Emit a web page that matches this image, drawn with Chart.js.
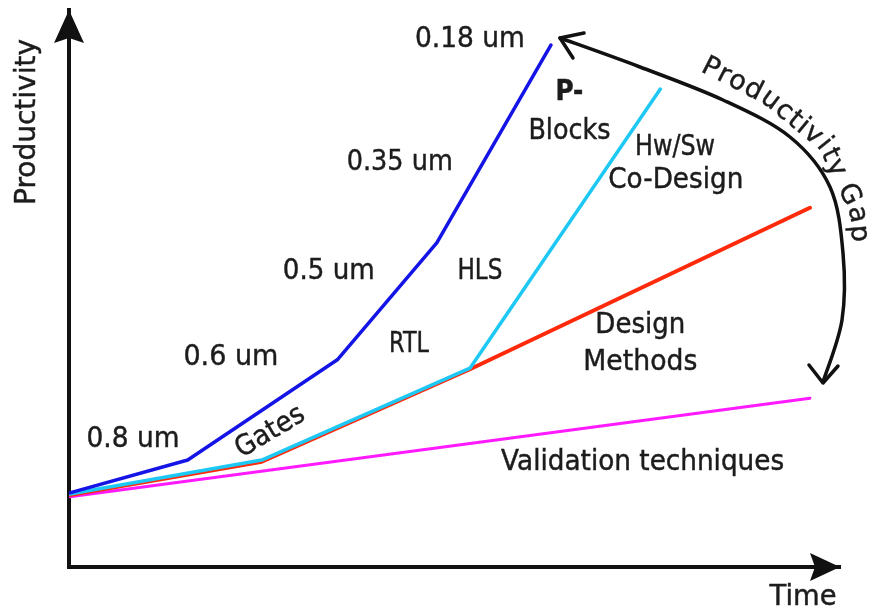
<!DOCTYPE html>
<html lang="en">
<head>
  <meta charset="UTF-8">
  <title>Productivity Gap</title>
  <script src="https://cdn.jsdelivr.net/npm/chart.js"></script>
  <style>
    html, body { margin: 0; padding: 0; background: #fff; }
    #wrap { width: 873px; height: 613px; }
  </style>
</head>
<body>
  <div id="wrap"><canvas id="gapChart" width="873" height="613"></canvas></div>

  <script>
    // Time and productivity both in arbitrary units 0..100
    const processTime = [0.1, 15.4, 34.8, 47.7, 62.5];
    const processProd = [13.3, 19.2, 37.2, 58.2, 93.7];
    const hwswTime = [0.1, 25.0, 52.0, 76.7];
    const hwswProd = [13.1, 19.2, 35.7, 85.8];
    const methodsTime = [0.1, 25.0, 52.0, 96.1];
    const methodsProd = [12.9, 18.9, 35.5, 64.5];
    const validationTime = [0.1, 96.1];
    const validationProd = [12.6, 30.3];

    const seriesNames = ['Process technology', 'Hw/Sw Co-Design', 'Design Methods', 'Validation techniques'];
    const nodeLabels = ['0.8 um', '0.6 um', '0.5 um', '0.35 um', '0.18 um'];
    const phaseLabels = ['Gates', 'RTL', 'HLS', 'P-', 'Blocks'];
    const axisTitles = ['Time', 'Productivity'];
    const gapLabel = 'Productivity Gap';

    const FONT = '"DejaVu Sans", "Liberation Sans", sans-serif';
    const INK = '#1c1c1c';
    const SIZE = 28;

    // where the text notes sit (data units) and how wide they may get
    const notes = [
      { text: nodeLabels[4], x: 52.0, y: 94.6, w: 110 },
      { text: nodeLabels[3], x: 42.9, y: 72.5, w: 106 },
      { text: nodeLabels[2], x: 33.7, y: 53.0, w: 92 },
      { text: nodeLabels[1], x: 21.0, y: 37.5, w: 95 },
      { text: nodeLabels[0], x: 8.3, y: 22.8, w: 93 },
      { text: phaseLabels[0], x: 26.1, y: 24.2, w: 76, rot: -31 },
      { text: phaseLabels[1], x: 44.1, y: 39.9, w: 40 },
      { text: phaseLabels[2], x: 53.3, y: 53.0, w: 45 },
      { text: phaseLabels[3], x: 64.9, y: 85.1, w: 28, bold: true },
      { text: phaseLabels[4], x: 64.9, y: 78.1, w: 82 },
      { text: 'Hw/Sw', x: 78.6, y: 75.2, w: 80 },
      { text: 'Co-Design', x: 78.7, y: 69.3, w: 135 },
      { text: 'Design', x: 74.1, y: 43.4, w: 90 },
      { text: 'Methods', x: 74.1, y: 36.6, w: 114 },
      { text: seriesNames[3], x: 74.4, y: 18.7, w: 283 }
    ];

    function toPoints(xs, ys) {
      return xs.map((x, i) => ({ x: x, y: ys[i] }));
    }

    // smooth curve through a list of points (Catmull-Rom)
    function smoothPath(ctx, pts) {
      ctx.moveTo(pts[0][0], pts[0][1]);
      for (let i = 0; i < pts.length - 1; i++) {
        const p0 = pts[i - 1] || pts[i], p1 = pts[i], p2 = pts[i + 1], p3 = pts[i + 2] || p2;
        ctx.bezierCurveTo(
          p1[0] + (p2[0] - p0[0]) / 6, p1[1] + (p2[1] - p0[1]) / 6,
          p2[0] - (p3[0] - p1[0]) / 6, p2[1] - (p3[1] - p1[1]) / 6,
          p2[0], p2[1]);
      }
    }

    function inkText(ctx, str, x, y, maxW) {
      ctx.fillText(str, x, y, maxW);
      ctx.strokeText(str, x, y, maxW);
    }

    // lay a string along a polyline, one glyph at a time
    function textOnPath(ctx, str, pts, spacing) {
      const segs = [];
      let total = 0;
      for (let i = 1; i < pts.length; i++) {
        const dx = pts[i][0] - pts[i - 1][0], dy = pts[i][1] - pts[i - 1][1];
        const len = Math.hypot(dx, dy);
        segs.push({ x: pts[i - 1][0], y: pts[i - 1][1], dx, dy, len, start: total });
        total += len;
      }
      function at(s) {
        s = Math.max(0, Math.min(total, s));
        let seg = segs[segs.length - 1];
        for (const g of segs) { if (s <= g.start + g.len) { seg = g; break; } }
        const t = (s - seg.start) / seg.len;
        return { x: seg.x + seg.dx * t, y: seg.y + seg.dy * t };
      }
      let s = 0;
      for (const ch of str) {
        const w = ctx.measureText(ch).width;
        const p = at(s + w / 2);
        const a = at(s + w / 2 - 8), b = at(s + w / 2 + 8);
        ctx.save();
        ctx.translate(p.x, p.y);
        ctx.rotate(Math.atan2(b.y - a.y, b.x - a.x));
        inkText(ctx, ch, 0, 0);
        ctx.restore();
        s += w + spacing;
      }
    }

    const decorations = {
      id: 'decorations',
      afterDraw(chart) {
        const ctx = chart.ctx;
        const area = chart.chartArea;
        const sx = chart.scales.x, sy = chart.scales.y;
        ctx.save();

        // arrow heads on both axes
        ctx.fillStyle = '#111';
        ctx.beginPath();
        ctx.moveTo(area.left, area.top);
        ctx.lineTo(area.left + 15, area.top + 33);
        ctx.lineTo(area.left, area.top + 28);
        ctx.lineTo(area.left - 15, area.top + 33);
        ctx.closePath();
        ctx.fill();
        ctx.beginPath();
        ctx.moveTo(area.right, area.bottom);
        ctx.lineTo(area.right - 30, area.bottom - 14);
        ctx.lineTo(area.right - 25, area.bottom);
        ctx.lineTo(area.right - 30, area.bottom + 14);
        ctx.closePath();
        ctx.fill();

        // axis titles
        ctx.fillStyle = INK;
        ctx.strokeStyle = INK;
        ctx.lineWidth = 0.45;
        ctx.font = SIZE + 'px ' + FONT;
        ctx.textAlign = 'center';
        ctx.textBaseline = 'middle';
        inkText(ctx, axisTitles[0], area.right - 37, area.bottom + 31, 67);
        ctx.save();
        ctx.translate(area.left - 41, area.top + 112);
        ctx.rotate(-Math.PI / 2);
        inkText(ctx, axisTitles[1], 0, 0, 166);
        ctx.restore();

        // notes
        notes.forEach(n => {
          ctx.font = (n.bold ? 'bold ' : '') + SIZE + 'px ' + FONT;
          ctx.save();
          ctx.translate(sx.getPixelForValue(n.x), sy.getPixelForValue(n.y));
          if (n.rot) ctx.rotate(n.rot * Math.PI / 180);
          inkText(ctx, n.text, 0, 0, n.w);
          ctx.restore();
        });

        // productivity gap arc with arrow heads
        const arc = [[560, 38], [640, 67], [723, 100], [790, 137], [830, 187], [843, 253], [842, 320], [823, 382]];
        ctx.strokeStyle = '#111';
        ctx.lineWidth = 3.5;
        ctx.lineCap = 'round';
        ctx.lineJoin = 'round';
        ctx.beginPath();
        smoothPath(ctx, arc);
        ctx.stroke();
        ctx.beginPath();
        ctx.moveTo(584, 33); ctx.lineTo(560, 38); ctx.lineTo(573, 58);
        ctx.moveTo(809, 365); ctx.lineTo(823, 383); ctx.lineTo(838, 366);
        ctx.stroke();

        ctx.font = '27px ' + FONT;
        ctx.strokeStyle = INK;
        ctx.lineWidth = 0.45;
        ctx.textAlign = 'center';
        ctx.textBaseline = 'alphabetic';
        textOnPath(ctx, gapLabel, [[700, 71], [763, 103], [819, 149], [850, 213], [857, 292]], 1.3);

        ctx.restore();
      }
    };

    const ctx = document.getElementById('gapChart').getContext('2d');
    new Chart(ctx, {
      type: 'line',
      data: {
        datasets: [
          { label: seriesNames[0], data: toPoints(processTime, processProd), borderColor: '#1414e6', borderWidth: 3.5 },
          { label: seriesNames[1], data: toPoints(hwswTime, hwswProd), borderColor: '#1ec8f5', borderWidth: 3.5 },
          { label: seriesNames[2], data: toPoints(methodsTime, methodsProd), borderColor: '#ff2a0a', borderWidth: 4 },
          { label: seriesNames[3], data: toPoints(validationTime, validationProd), borderColor: '#ff1aff', borderWidth: 3 }
        ]
      },
      options: {
        responsive: false,
        animation: false,
        layout: { padding: { left: 69, right: 33, top: 10, bottom: 46 } },
        elements: { point: { radius: 0 }, line: { tension: 0, borderCapStyle: 'round', borderJoinStyle: 'round' } },
        plugins: { legend: { display: false }, tooltip: { enabled: false } },
        scales: {
          x: {
            type: 'linear', min: 0, max: 100,
            grid: { display: false, drawTicks: false },
            ticks: { display: false },
            border: { display: true, color: '#111', width: 4 }
          },
          y: {
            type: 'linear', min: 0, max: 100,
            grid: { display: false, drawTicks: false },
            ticks: { display: false },
            border: { display: true, color: '#111', width: 4 }
          }
        }
      },
      plugins: [decorations]
    });
  </script>
</body>
</html>
